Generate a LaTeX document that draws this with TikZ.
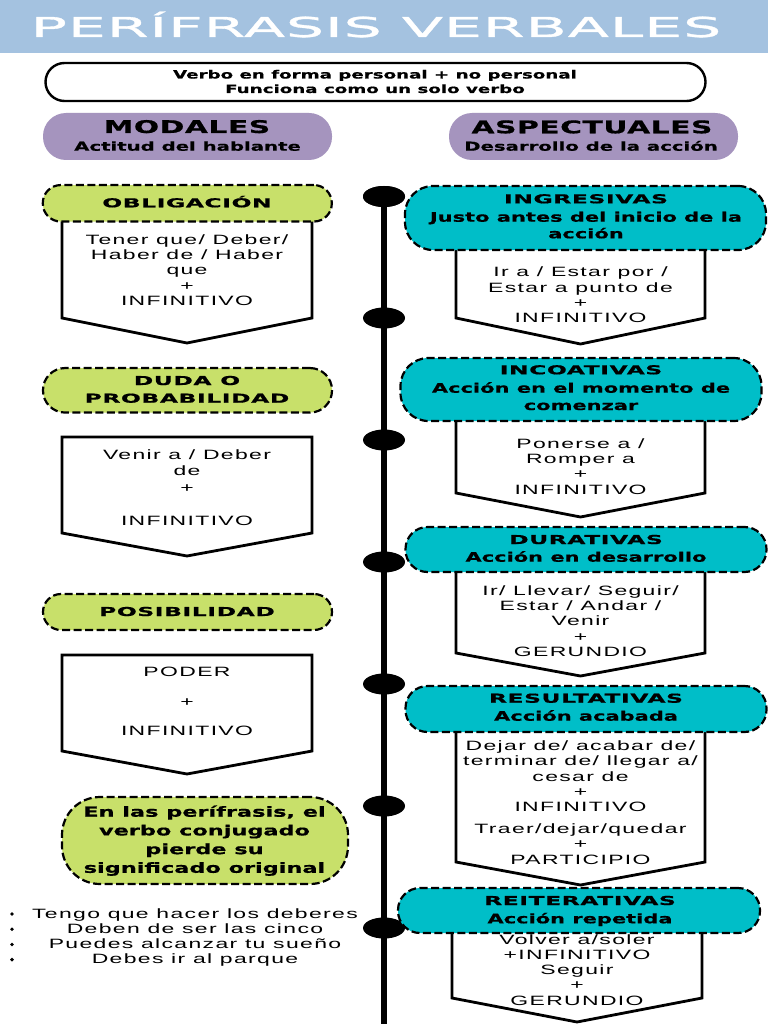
\documentclass[tikz,border=0pt]{standalone}
\usepackage{fontspec}
\usetikzlibrary{shapes.geometric}
\newfontfamily\titlef[FakeStretch=2.2,LetterSpace=3,FakeBold=1.2]{DejaVu Sans}
\newfontfamily\hvf[FakeStretch=1.6,FakeBold=0.6]{DejaVu Sans}
\newfontfamily\hvcf[FakeStretch=1.9,LetterSpace=5,FakeBold=0.8]{DejaVu Sans}
\newfontfamily\hvtf[FakeStretch=1.7,LetterSpace=3,FakeBold=0.8]{DejaVu Sans}
\newfontfamily\bodyf[FakeStretch=1.7,LetterSpace=10]{Liberation Sans}
\definecolor{hdrblue}{RGB}{164,194,224}
\definecolor{lila}{RGB}{165,148,190}
\definecolor{limepill}{RGB}{200,224,106}
\definecolor{cyanpill}{RGB}{0,190,200}
\newcommand\stack[6]{\foreach \t [count=\i] in {#6} {\node[#1] (#2\i) at (#3,{#4+(\i-1)*#5}) {\t};}}
\newcommand\pentbox[5]{\draw[boxshape] (#1,#2) -- (#1,#4) -- ({(#1+#3)/2},#5) -- (#3,#4) -- (#3,#2) -- cycle;}
\tikzset{
  pillbase/.style={draw=black, line width=2.2pt, dash pattern=on 8pt off 3.5pt, inner sep=0pt},
  pillG/.style={pillbase, fill=limepill},
  pillC/.style={pillbase, fill=cyanpill},
  pillP/.style={fill=lila, inner sep=0pt, rounded corners=23pt, minimum width=289pt, minimum height=47pt},
  boxshape/.style={draw=black, line width=2.8pt, fill=white, line join=miter},
  bodytxt/.style={font=\bodyf\fontsize{13.5}{15}\selectfont, inner sep=0pt, anchor=base},
  captxt/.style={font=\hvcf\bfseries\fontsize{12.3}{14}\selectfont, inner sep=0pt, anchor=base},
  hvtxt/.style={font=\hvf\bfseries\fontsize{13.1}{15}\selectfont, inner sep=0pt, anchor=base},
  subtxt/.style={font=\hvf\bfseries\fontsize{12.3}{14}\selectfont, inner sep=0pt, anchor=base},
  bigtxt/.style={font=\hvtf\bfseries\fontsize{17.5}{20}\selectfont, inner sep=0pt, anchor=base},
  introtxt/.style={font=\hvf\bfseries\fontsize{11.4}{13}\selectfont, inner sep=0pt, anchor=base},
  notetxt/.style={font=\hvf\bfseries\fontsize{14}{16}\selectfont, inner sep=0pt, anchor=base},
  tdot/.style={ellipse, fill=black, minimum width=42pt, minimum height=21pt, inner sep=0pt},
  bullet/.style={circle, fill=black, minimum size=3.8pt, inner sep=0pt},
  timeline/.style={line width=6pt, draw=black}
}
\begin{document}
\begin{tikzpicture}[x=1pt,y=-1pt]
\useasboundingbox (0,0) rectangle (768,1024);
\fill[white] (0,0) rectangle (768,1024);
% header
\node[fill=hdrblue, minimum width=768pt, minimum height=53pt, inner sep=0pt, anchor=north west] (header) at (0,0) {};
\node[font=\titlef\fontsize{27.4}{30}\selectfont, text=white, anchor=base, inner sep=0pt] (title) at (376,37) {PERÍFRASIS VERBALES};
% intro box
\node[draw=black, line width=2.4pt, rounded corners=19pt, minimum width=660pt, minimum height=38pt, inner sep=0pt] (intro) at (375.5,82) {};
\stack{introtxt}{introl}{375}{78.5}{14.5}{Verbo en forma personal + no personal, Funciona como un solo verbo}
% purple headers
\node[pillP] (modales) at (187.5,136.5) {};
\node[bigtxt] (modt) at (187,133) {MODALES};
\node[subtxt] (modst) at (187.5,150.7) {Actitud del hablante};
\node[pillP] (aspect) at (593.5,136.5) {};
\node[bigtxt] (aspt) at (592,133.3) {ASPECTUALES};
\node[subtxt] (aspst) at (591,150.7) {Desarrollo de la acción};
% timeline
\coordinate (tend) at (384,1024);
\node[tdot] (d1) at (384,196.5) {};
\draw[timeline] (d1.center) -- (tend);
\foreach \y [count=\k] in {196.5,318,440,562,684,806,928} {\node[tdot] (dot\k) at (384,\y) {};}
% left boxes
\pentbox{62}{215}{312}{318}{343}
\stack{bodytxt}{oblb}{187}{244}{15.4}{Tener que/ Deber/, Haber de / Haber, que, +, INFINITIVO}
\pentbox{62}{437}{312}{533}{556}
\stack{bodytxt}{dudab}{187}{459.5}{16.4}{Venir a / Deber, de, +, {}, INFINITIVO}
\pentbox{62}{655}{312}{751}{774}
\stack{bodytxt}{posb}{187}{676.7}{14.8}{PODER, {}, +, {}, INFINITIVO}
% right boxes
\pentbox{456}{244}{705}{318}{344}
\stack{bodytxt}{ingb}{580.5}{276.7}{15.3}{Ir a / Estar por /, Estar a punto de, +, INFINITIVO}
\pentbox{456}{415}{705}{493}{517}
\stack{bodytxt}{incb}{580.5}{448.3}{15.3}{Ponerse a /, Romper a, +, INFINITIVO}
\pentbox{456}{566}{705}{653}{676}
\stack{bodytxt}{durb}{580.5}{595}{15.4}{Ir/ Llevar/ Seguir/, Estar / Andar /, Venir, +, GERUNDIO}
\pentbox{456}{726}{705}{862}{885}
\stack{bodytxt}{resb}{580.5}{750.7}{15.25}{Dejar de/ acabar de/, terminar de/ llegar a/, cesar de, +, INFINITIVO}
\stack{bodytxt}{resc}{580.5}{833.3}{15.35}{Traer/dejar/quedar, +, PARTICIPIO}
\pentbox{452}{928}{702}{998}{1022}
\stack{bodytxt}{reib}{577}{944}{15.25}{Volver a/soler, +INFINITIVO, Seguir, +, GERUNDIO}
% left pills
\node[pillG, rounded corners=18pt, minimum width=289pt, minimum height=36.5pt] (obl) at (187.3,203.3) {};
\stack{captxt}{oblt}{187}{207.3}{18}{OBLIGACIÓN}
\node[pillG, rounded corners=22pt, minimum width=289pt, minimum height=44.5pt] (duda) at (187.5,390.3) {};
\stack{captxt}{dudat}{187}{385}{17.7}{DUDA O, PROBABILIDAD}
\node[pillG, rounded corners=18pt, minimum width=289pt, minimum height=36pt] (posib) at (187.5,612) {};
\stack{captxt}{post}{187}{616}{18}{POSIBILIDAD}
% right pills
\node[pillC, rounded corners=28pt, minimum width=361pt, minimum height=64pt] (ingr) at (585.5,218) {};
\stack{captxt}{ingt}{586}{203.3}{18}{INGRESIVAS}
\stack{hvtxt}{ingu}{586}{221.7}{16.6}{Justo antes del inicio de la, acción}
\node[pillC, rounded corners=28pt, minimum width=361pt, minimum height=63pt] (inco) at (581,389.5) {};
\stack{captxt}{inct}{581}{374.3}{18}{INCOATIVAS}
\stack{hvtxt}{incu}{581}{392.7}{17.3}{Acción en el momento de, comenzar}
\node[pillC, rounded corners=22pt, minimum width=361pt, minimum height=45pt] (dura) at (586,549.5) {};
\stack{captxt}{durt}{586}{544}{18}{DURATIVAS}
\stack{hvtxt}{duru}{586}{561.7}{18}{Acción en desarrollo}
\node[pillC, rounded corners=22pt, minimum width=361pt, minimum height=46pt] (resu) at (586,709) {};
\stack{captxt}{rest}{586}{702.7}{18}{RESULTATIVAS}
\stack{hvtxt}{resu}{586}{720.7}{18}{Acción acabada}
\node[pillC, rounded corners=22pt, minimum width=362pt, minimum height=45pt] (reit) at (579,910.5) {};
\stack{captxt}{reit}{580}{905}{18}{REITERATIVAS}
\stack{hvtxt}{reiu}{580}{923.3}{18}{Acción repetida}
% note
\node[pillG, rounded corners=38pt, minimum width=286pt, minimum height=87pt] (note) at (205,840.5) {};
\stack{notetxt}{notet}{204.5}{816.7}{18.7}{{En las perífrasis, el}, verbo conjugado, pierde su, significado original}
% examples
\stack{bodytxt}{ex}{195}{918.3}{15.2}{Tengo que hacer los deberes, Deben de ser las cinco, Puedes alcanzar tu sueño, Debes ir al parque}
\foreach \y [count=\k] in {914,929.2,944.4,959.6} {\node[bullet] (b\k) at (12,\y) {};}
\end{tikzpicture}
\end{document}
